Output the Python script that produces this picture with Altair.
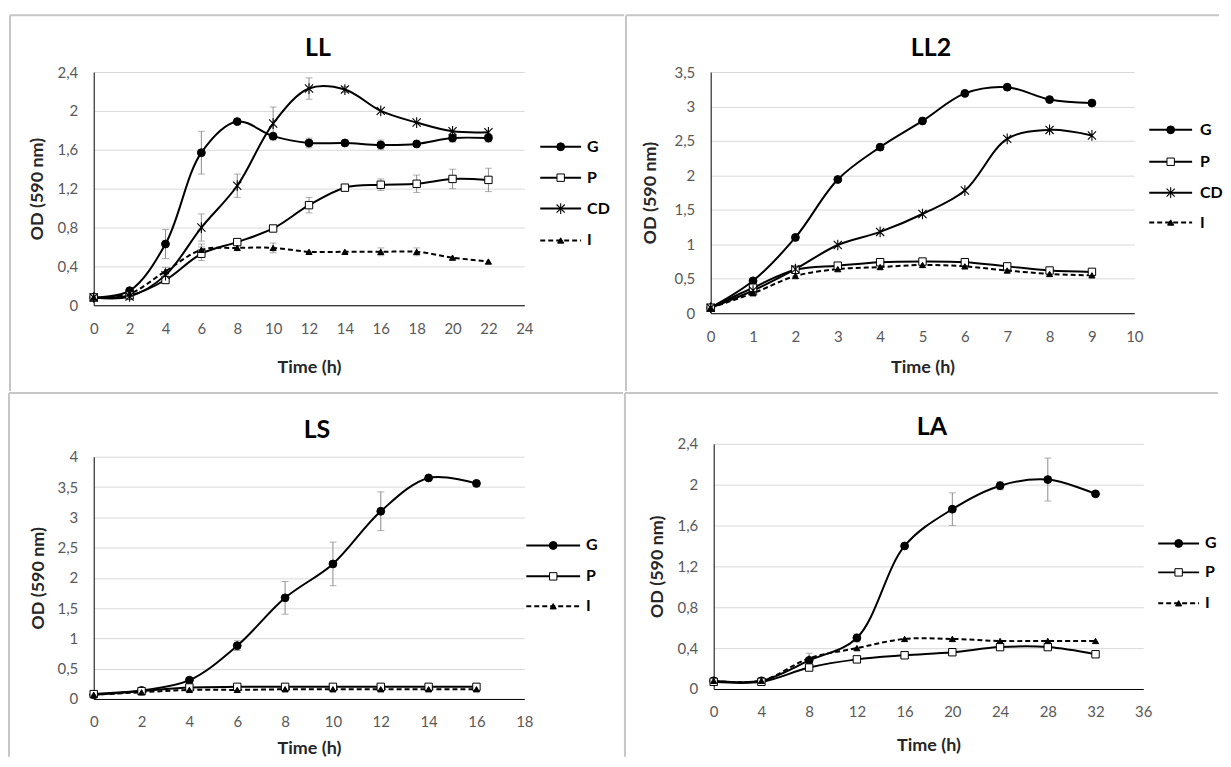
import altair as alt
import pandas as pd

FONT = "Lato"

# ---------------- data ----------------
LL_t = [0, 2, 4, 6, 8, 10, 12, 14, 16, 18, 20, 22]
LL_G = [0.08, 0.15, 0.63, 1.57, 1.89, 1.74, 1.67, 1.67, 1.65, 1.66, 1.72, 1.72]
LL_P = [0.08, 0.10, 0.26, 0.53, 0.65, 0.79, 1.03, 1.21, 1.24, 1.25, 1.30, 1.29]
LL_CD = [0.08, 0.09, 0.31, 0.80, 1.23, 1.87, 2.23, 2.22, 2.00, 1.88, 1.79, 1.78]
LL_I = [0.08, 0.12, 0.35, 0.57, 0.59, 0.59, 0.55, 0.55, 0.55, 0.55, 0.49, 0.45]
LL_G_err = [0, 0, 0.15, 0.22, 0, 0, 0.05, 0, 0.05, 0, 0.04, 0.04]
LL_P_err = [0, 0, 0, 0.07, 0, 0, 0.08, 0, 0.06, 0.09, 0.10, 0.12]
LL_CD_err = [0, 0, 0.08, 0.14, 0.12, 0.17, 0.11, 0.03, 0, 0, 0, 0]
LL_I_err = [0, 0, 0, 0.06, 0, 0.05, 0, 0, 0.04, 0.04, 0, 0]

LL2_t = [0, 1, 2, 3, 4, 5, 6, 7, 8, 9]
LL2_G = [0.08, 0.47, 1.10, 1.94, 2.41, 2.79, 3.19, 3.28, 3.10, 3.05]
LL2_P = [0.08, 0.37, 0.63, 0.69, 0.74, 0.75, 0.74, 0.68, 0.62, 0.60]
LL2_CD = [0.08, 0.33, 0.64, 0.99, 1.18, 1.44, 1.78, 2.53, 2.66, 2.58]
LL2_I = [0.08, 0.29, 0.54, 0.64, 0.67, 0.70, 0.68, 0.62, 0.57, 0.55]

LS_t = [0, 2, 4, 6, 8, 10, 12, 14, 16]
LS_G = [0.07, 0.14, 0.31, 0.88, 1.67, 2.23, 3.10, 3.65, 3.56]
LS_P = [0.08, 0.13, 0.19, 0.20, 0.20, 0.20, 0.20, 0.20, 0.20]
LS_I = [0.07, 0.11, 0.15, 0.15, 0.16, 0.16, 0.16, 0.16, 0.16]
LS_G_err = [0, 0, 0, 0.08, 0.27, 0.36, 0.32, 0, 0]

LA_t = [0, 4, 8, 12, 16, 20, 24, 28, 32]
LA_G = [0.08, 0.08, 0.28, 0.50, 1.40, 1.76, 1.99, 2.05, 1.91]
LA_P = [0.07, 0.07, 0.21, 0.29, 0.33, 0.36, 0.41, 0.41, 0.34]
LA_I = [0.08, 0.08, 0.30, 0.40, 0.49, 0.49, 0.47, 0.47, 0.47]
LA_G_err = [0, 0, 0.07, 0.04, 0, 0.16, 0.04, 0.21, 0]

LL_yticks = [0, 0.4, 0.8, 1.2, 1.6, 2, 2.4]
LL2_yticks = [0, 0.5, 1, 1.5, 2, 2.5, 3, 3.5]
LS_yticks = [0, 0.5, 1, 1.5, 2, 2.5, 3, 3.5, 4]
LA_yticks = [0, 0.4, 0.8, 1.2, 1.6, 2, 2.4]

# ---------------- styles ----------------
ASTER = "M-0.8,-0.8L0.8,0.8M-0.8,0.8L0.8,-0.8M0,-1.05L0,1.05"
STYLE = {
    "G": dict(shape="circle", size=62, fill="black", dash=None),
    "P": dict(shape="square", size=55, fill="white", dash=None),
    "CD": dict(shape=ASTER, size=105, fill=None, dash=None),
    "I": dict(shape="triangle-up", size=38, fill="black", dash=[5, 3]),
}
ERR_COLOR = "#8c8c8c"
BORDER = "#c6c6c6"
ONE = pd.DataFrame({"k": [0]})


def pmark(chart, s):
    st = STYLE[s]
    if st["fill"] is None:
        return chart.mark_point(shape=st["shape"], size=st["size"], filled=False,
                                stroke="black", strokeWidth=1.1, opacity=1)
    return chart.mark_point(shape=st["shape"], size=st["size"], filled=True,
                            fill=st["fill"], stroke="black", strokeWidth=1, opacity=1)


def vrule(x1, x2, y1, y2, color, width):
    return alt.Chart(ONE).mark_rule(color=color, strokeWidth=width).encode(
        x=alt.value(x1), x2=alt.value(x2), y=alt.value(y1), y2=alt.value(y2))


def make_panel(p):
    t = p["t"]
    rows = []
    for s, vals in p["series"].items():
        e = p["errs"].get(s, [0] * len(t))
        for ti, v, ei in zip(t, vals, e):
            rows.append(dict(t=ti, series=s, od=v, lo=round(v - ei, 3), hi=round(v + ei, 3), err=ei))
    df = pd.DataFrame(rows)
    W, H = p["W"], p["H"]
    xmax, xstep = p["xmax"], p["xstep"]
    yt = p["yticks"]

    xs = alt.Scale(domain=[0, xmax], nice=False, zero=True)
    if "yrange" in p:
        ys = alt.Scale(domain=[0, yt[-1]], nice=False, zero=True, range=p["yrange"])
    else:
        ys = alt.Scale(domain=[0, yt[-1]], nice=False, zero=True)
    xax = alt.Axis(values=list(range(0, xmax + 1, xstep)), title="Time (h)", grid=False,
                   ticks=False, labelFlush=False, labelPadding=16, titlePadding=p["tpx"],
                   format="d")
    yax = alt.Axis(values=yt, title="OD (590 nm)", grid=True, ticks=False,
                   labelPadding=16, titlePadding=p["tpy"], format="~g",
                   labelExpr="replace(datum.label, '.', ',')")
    X = alt.X("t:Q", scale=xs, axis=xax)

    fl, fr, ft, fb = p["frame"]
    layers = [
        alt.Chart(ONE).mark_rect(fill="white", opacity=0).encode(
            x=alt.value(fl), x2=alt.value(fr), y=alt.value(ft), y2=alt.value(fb)),
    ]
    for b in p["borders"]:
        layers.append(vrule(*b, BORDER, 2))
    tx, ty = p["title_pos"]
    layers.append(alt.Chart(ONE).mark_text(text=p["name"], font=FONT, fontSize=25, fontWeight="bold",
                                           color="black", align="center", baseline="middle").encode(
        x=alt.value(tx), y=alt.value(ty)))

    edf = df[df["err"] > 0]
    base_e = alt.Chart(edf)
    layers.append(base_e.mark_rule(color=ERR_COLOR, strokeWidth=1).encode(
        x=X, y=alt.Y("lo:Q", scale=ys, axis=yax), y2="hi:Q"))
    layers.append(base_e.mark_tick(orient="horizontal", size=7, thickness=1, color=ERR_COLOR).encode(
        x=X, y=alt.Y("lo:Q", scale=ys, axis=yax)))
    layers.append(base_e.mark_tick(orient="horizontal", size=7, thickness=1, color=ERR_COLOR).encode(
        x=X, y=alt.Y("hi:Q", scale=ys, axis=yax)))

    for s in p["series"]:
        sdf = df[df["series"] == s]
        st = STYLE[s]
        kw = dict(color="black", strokeWidth=2, interpolate="catmull-rom")
        if st["dash"]:
            kw["strokeDash"] = st["dash"]
        layers.append(alt.Chart(sdf).mark_line(**kw).encode(
            x=X, y=alt.Y("od:Q", scale=ys, axis=yax)))
    for s in p["series"]:
        sdf = df[df["series"] == s]
        layers.append(pmark(alt.Chart(sdf), s).encode(
            x=X, y=alt.Y("od:Q", scale=ys, axis=yax)))

    # legend
    lx0, lx1, ltx = p["legend_x"]
    for s, ly in zip(p["series"], p["legend_y"]):
        st = STYLE[s]
        kw = dict(color="black", strokeWidth=2)
        if st["dash"]:
            kw["strokeDash"] = st["dash"]
        layers.append(alt.Chart(ONE).mark_rule(**kw).encode(
            x=alt.value(lx0), x2=alt.value(lx1), y=alt.value(ly)))
        layers.append(pmark(alt.Chart(ONE), s).encode(
            x=alt.value((lx0 + lx1) / 2), y=alt.value(ly)))
        layers.append(alt.Chart(ONE).mark_text(text=s, font=FONT, fontSize=16, fontWeight="bold",
                                               color="black", align="left", baseline="middle").encode(
            x=alt.value(ltx), y=alt.value(ly)))

    return alt.layer(*layers).properties(width=W, height=H)


panels = [
    dict(name="LL", t=LL_t,
         series={"G": LL_G, "P": LL_P, "CD": LL_CD, "I": LL_I},
         errs={"G": LL_G_err, "P": LL_P_err, "CD": LL_CD_err, "I": LL_I_err},
         xmax=24, xstep=2, yticks=LL_yticks, W=432, H=234, tpx=22, tpy=11,
         frame=(-85, 533, -63, 321),
         borders=[(-84, 532, -57, -57), (-84, -84, -57, 320)],
         title_pos=(225, -24), legend_x=(448, 489, 495), legend_y=[75, 106, 137, 169]),
    dict(name="LL2", t=LL2_t,
         series={"G": LL2_G, "P": LL2_P, "CD": LL2_CD, "I": LL2_I},
         errs={},
         xmax=10, xstep=1, yticks=LL2_yticks, W=425, H=242, tpx=14, tpy=15,
         frame=(-86, 511, -63, 321),
         borders=[(-85, 510, -57, -57), (-85, -85, -57, 320)],
         title_pos=(221, -24), legend_x=(440, 483, 491), legend_y=[58, 90, 121, 151]),
    dict(name="LS", t=LS_t,
         series={"G": LS_G, "P": LS_P, "I": LS_I},
         errs={"G": LS_G_err},
         xmax=18, xstep=2, yticks=LS_yticks, W=432, H=256, yrange=[256, 13], tpx=10, tpy=10,
         frame=(-86, 532, -52, 315),
         borders=[(-85, 531, -51, -51), (-85, -85, -51, 314)],
         title_pos=(224, -14), legend_x=(434, 488, 494), legend_y=[102, 133, 163]),
    dict(name="LA", t=LA_t,
         series={"G": LA_G, "P": LA_P, "I": LA_I},
         errs={"G": LA_G_err},
         xmax=36, xstep=4, yticks=LA_yticks, W=431, H=246, tpx=17, tpy=11,
         frame=(-90, 507, -52, 315),
         borders=[(-89, 506, -51, -51), (-89, -89, -51, 314)],
         title_pos=(219, -17), legend_x=(446, 487, 493), legend_y=[100, 129, 160]),
]

charts = [make_panel(p) for p in panels]

chart = alt.vconcat(
    alt.hconcat(charts[0], charts[1], spacing=0),
    alt.hconcat(charts[2], charts[3], spacing=0),
    spacing=0,
).properties(padding=0).configure_view(stroke=None).configure_axis(
    labelFont=FONT, labelFontSize=15, labelColor="#595959",
    titleFont=FONT, titleFontSize=18, titleFontWeight="bold", titleColor="#262626",
    domainColor="black", domainWidth=1, tickSize=0, labelOverlap=False,
    gridColor="#d9d9d9", gridWidth=1,
)

chart.save("out.html", embed_options={"renderer": "svg", "actions": False})
